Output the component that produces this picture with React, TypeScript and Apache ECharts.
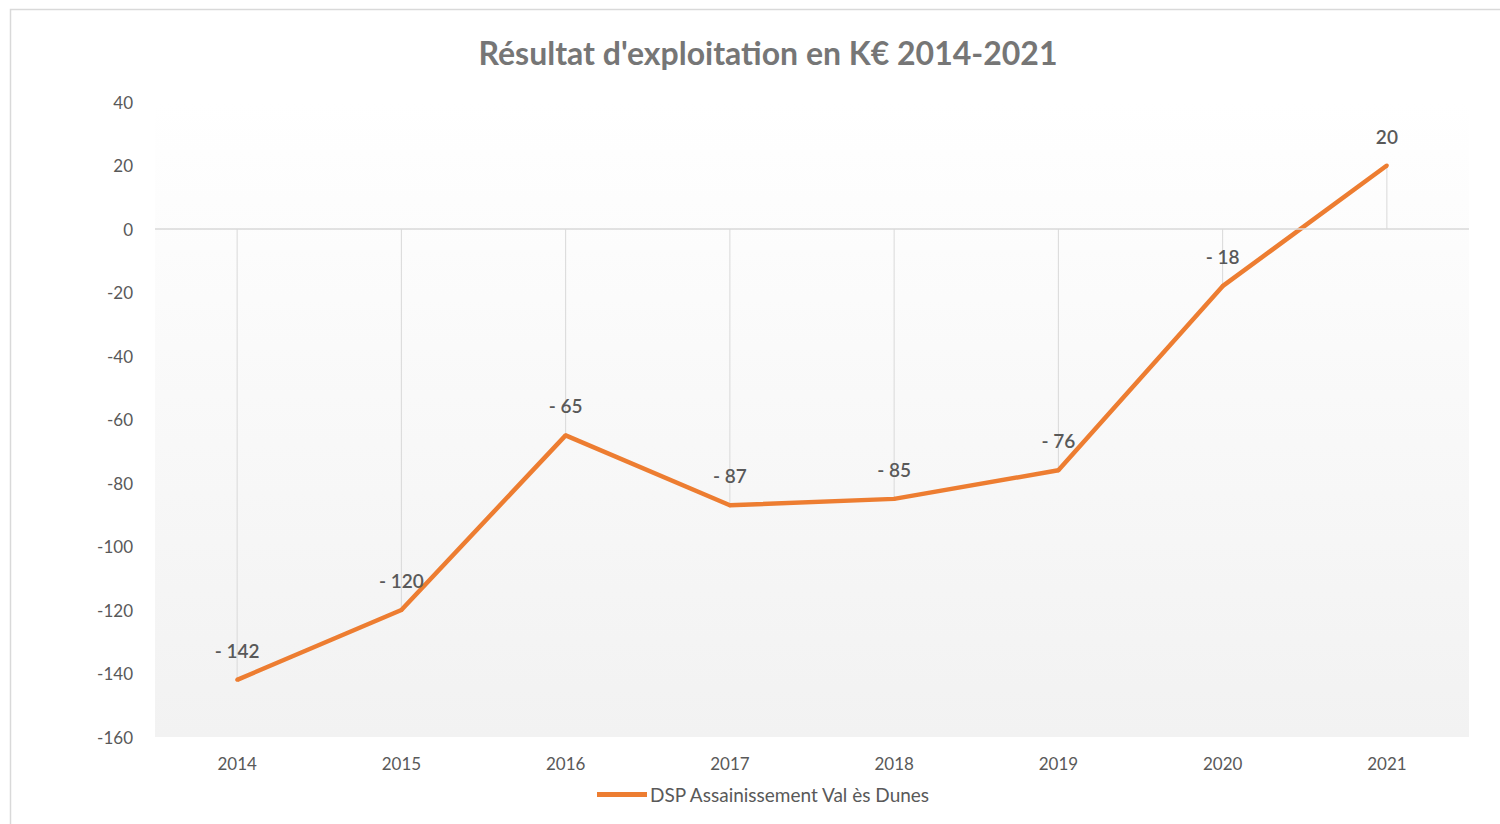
import React, { useEffect, useRef } from "react";
import * as echarts from "echarts";

const categories = ["2014", "2015", "2016", "2017", "2018", "2019", "2020", "2021"];
const values = [-142, -120, -65, -87, -85, -76, -18, 20];
const seriesName = "DSP Assainissement Val ès Dunes";
const titleText = "Résultat d'exploitation en K€ 2014-2021";
const yMin = -160;
const yMax = 40;
const yInterval = 20;

const FONT = "Lato, 'Open Sans', sans-serif";
const TEXT = "#595959";

export default function App() {
  const ref = useRef<HTMLDivElement>(null);
  useEffect(() => {
    document.body.style.margin = "0";
    const chart = echarts.init(ref.current!, null, { renderer: "svg" });
    chart.setOption({
      animation: false,
      backgroundColor: "#ffffff",
      textStyle: { fontFamily: FONT },
      title: {
        text: titleText,
        left: 763,
        textAlign: "center",
        top: 31,
        textStyle: { fontSize: 32, fontWeight: "bold", color: "#767676", fontFamily: FONT },
      },
      graphic: [
        {
          type: "rect",
          shape: { x: 10.5, y: 9.5, width: 1500, height: 830 },
          style: { fill: "none", stroke: "#d9d9d9", lineWidth: 1.5 },
          silent: true,
          z: -10,
        },
      ],
      legend: {
        data: [{ name: seriesName, icon: "rect" }],
        left: 592,
        top: 780,
        itemWidth: 50,
        itemHeight: 5,
        itemGap: 5,
        textStyle: { fontSize: 19, color: TEXT, fontFamily: FONT, padding: [0, 0, 0, -2] },
      },
      grid: {
        left: 155,
        right: 31,
        top: 102,
        bottom: 87,
        show: true,
        borderWidth: 0,
        backgroundColor: new echarts.graphic.LinearGradient(0, 0, 0, 1, [
          { offset: 0, color: "#ffffff" },
          { offset: 1, color: "#f2f2f2" },
        ]),
      },
      xAxis: {
        type: "category",
        data: categories,
        boundaryGap: true,
        position: "bottom",
        axisLine: { show: false, onZero: false },
        axisTick: { show: false },
        splitLine: { show: false },
        axisLabel: { color: TEXT, fontSize: 17, margin: 18, fontFamily: FONT },
      },
      yAxis: {
        type: "value",
        min: yMin,
        max: yMax,
        interval: yInterval,
        axisLine: { show: false },
        axisTick: { show: false },
        splitLine: { show: false },
        axisLabel: { color: TEXT, fontSize: 17, margin: 22, fontFamily: FONT },
      },
      series: [
        {
          name: "drop",
          type: "bar",
          data: values,
          barWidth: 1,
          itemStyle: { color: "#d9d9d9" },
          silent: true,
          z: 1,
          markLine: {
            silent: true,
            symbol: "none",
            label: { show: false },
            lineStyle: { color: "#d9d9d9", width: 1.5, type: "solid" },
            data: [{ yAxis: 0 }],
          },
        },
        {
          name: seriesName,
          type: "line",
          data: values,
          symbol: "circle",
          symbolSize: 4,
          showSymbol: true,
          itemStyle: { color: "#ED7D31" },
          lineStyle: { color: "#ED7D31", width: 4.5 },
          z: 3,
          label: {
            show: true,
            position: "top",
            distance: 18,
            fontSize: 19,
            fontWeight: 600,
            color: TEXT,
            fontFamily: FONT,
            formatter: (p: any) => (p.value < 0 ? "- " + Math.abs(p.value) : String(p.value)),
          },
        },
      ],
    });
    return () => chart.dispose();
  }, []);
  return <div ref={ref} style={{ width: 1500, height: 824 }} />;
}
